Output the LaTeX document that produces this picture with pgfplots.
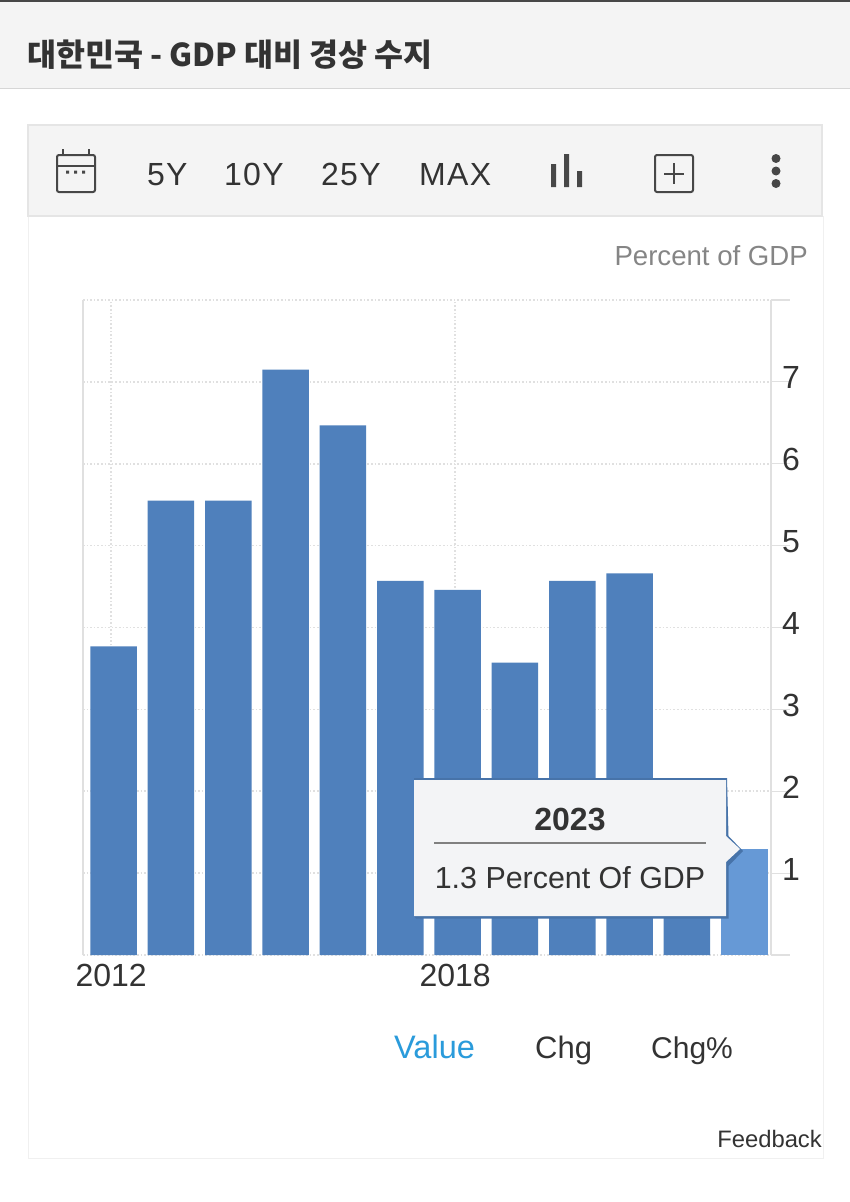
\documentclass[border=0pt]{standalone}
\usepackage{fontspec}
\usepackage{pgfplots}
\pgfplotsset{compat=1.18}
\setmainfont{Liberation Sans}
\newfontfamily\cjk{Noto Sans CJK KR}
\definecolor{barblue}{HTML}{4F80BC}
\definecolor{barhi}{HTML}{6699D6}
\definecolor{gridc}{HTML}{E0E0E0}
\definecolor{panel}{HTML}{F4F4F4}
\definecolor{ink}{HTML}{333333}
\definecolor{tipbg}{HTML}{F3F4F6}
\definecolor{valblue}{HTML}{2A9BDB}
\newcommand{\fs}[1]{\fontsize{#1}{#1}\selectfont}
\begin{document}
\begin{tikzpicture}
\path[use as bounding box,fill=white] (0pt,0pt) rectangle (850pt,-1202pt);
\begin{scope}[x=1pt,y=-1pt]
 \fill[panel] (0,0) rectangle (850,88);
 \fill[ink!90] (0,0) rectangle (850,2);
 \draw[black!16,line width=1.5pt] (0,88.5)--(850,88.5);
 \draw[black!6,line width=1pt] (28,216) rectangle (823,1158);
 \fill[panel] (28,125) rectangle (822,216);
 \draw[black!10,line width=1.2pt] (28,125) rectangle (822,216);
\end{scope}
\begin{axis}[
  at={(83pt,-955pt)},anchor=south west,
  scale only axis,width=688pt,height=655pt,
  xmin=2011.51,xmax=2023.51,ymin=0,ymax=8,
  axis line style={draw=none},
  ymajorgrids,xmajorgrids,
  grid style={gridc,line width=1.6pt,dotted},
  xtick={2012,2018},
  xticklabels={2012,2018},
  ytick={0,1,2,3,4,5,6,7,8},
  yticklabels={,1,2,3,4,5,6,7,},
  ytick pos=right,xtick pos=bottom,
  tick align=outside,major tick length=19pt,
  xtick style={draw=none},
  ytick style={gridc,line width=1.2pt},
  xticklabel style={font=\fs{32},text=ink,anchor=base,yshift=-12pt,/pgf/number format/assume math mode=true},
  yticklabel style={font=\fs{32},text=ink,anchor=center,xshift=1pt,yshift=4pt,inner sep=0pt,/pgf/number format/assume math mode=true},
  /pgf/number format/set thousands separator={},
  ybar,bar width=46.5pt,bar shift=2.5pt,
  clip=false,
]
\draw[gridc,line width=1.2pt] (rel axis cs:0,0)--(rel axis cs:0,1);
\draw[gridc,line width=1.2pt] (rel axis cs:1,0)--(rel axis cs:1,1);
\addplot[fill=barblue,draw=none] coordinates {
 (2012,3.77)(2013,5.55)(2014,5.55)(2015,7.15)(2016,6.47)(2017,4.57)
 (2018,4.46)(2019,3.57)(2020,4.57)(2021,4.66)(2022,1.8)};
\addplot[fill=barhi,draw=none] coordinates {(2023,1.3)};
\end{axis}
\begin{scope}[x=1pt,y=-1pt]
 % title
 \node[anchor=base west,inner sep=0,text=ink] at (27,66) {\cjk\bfseries\fs{31.5}대한민국 - GDP 대비 경상 수지};
 % toolbar
 \begin{scope}[line width=2pt,draw=ink!90]
  \draw[rounded corners=2pt] (57,155) rectangle (95,192);
  \draw (57,165.5)--(95,165.5);
  \draw (63,149)--(63,155) (89,149)--(89,155);
  \fill[ink!90] (66,170.5) rectangle (69,173.5) (74,170.5) rectangle (77,173.5) (82,170.5) rectangle (85,173.5);
  \draw[rounded corners=2pt] (655,155) rectangle (693,192);
  \draw (674,163)--(674,184) (664,173.5)--(684,173.5);
 \end{scope}
 \fill[ink!90] (551,164) rectangle (556,187) (564,154) rectangle (569,187) (577,171) rectangle (582,187);
 \fill[ink!90] (776,158.5) circle (4.5) (776,171) circle (4.5) (776,183.5) circle (4.5);
 \foreach \x/\t in {147/5Y,224/10Y,321/25Y,419/MAX}
  \node[anchor=base west,inner sep=0,text=ink] at (\x,185) {\fs{32}\addfontfeature{LetterSpace=4}\t};
 \node[anchor=base east,inner sep=0,text=black!48] at (808,265) {\fs{27.6}Percent of GDP};
 % selector
 \node[anchor=base west,inner sep=0,text=valblue] at (394,1058) {\fs{32.5}Value};
 \node[anchor=base west,inner sep=0,text=ink] at (535,1058) {\fs{31}Chg};
 \node[anchor=base west,inner sep=0,text=ink] at (651,1058) {\fs{30}Chg\%};
 \node[anchor=base east,inner sep=0,text=ink] at (822,1147) {\fs{23.8}Feedback};
 % tooltip
 \fill[barblue!90!black] (414,778) -- (727,778) -- (728.5,836) -- (743,851) -- (728.5,866) -- (728.5,918.5) -- (416,918.5) -- (414,916) -- cycle;
 \fill[tipbg] (414,780) -- (726,780) -- (726,836) -- (740,849) -- (726,862) -- (726,916) -- (414,916) -- cycle;
 \node[anchor=base,inner sep=0,text=ink] at (570,830) {\bfseries\fs{32}2023};
 \draw[black!50,line width=1.2pt] (434,843)--(706,843);
 \node[anchor=base,inner sep=0,text=ink] at (570,888) {\fs{30.4}1.3 Percent Of GDP};
\end{scope}
\end{tikzpicture}
\end{document}
